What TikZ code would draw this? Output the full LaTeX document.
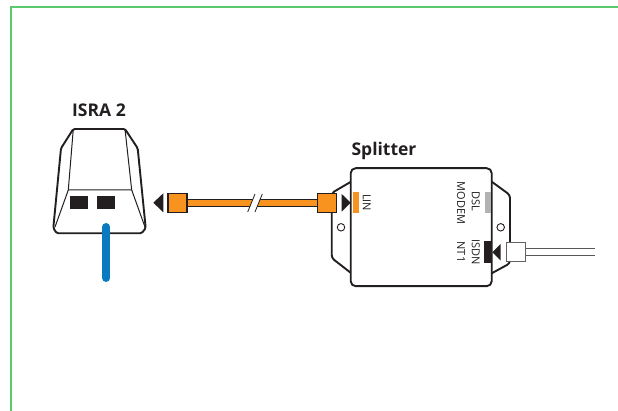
\documentclass[tikz,border=0pt]{standalone}
\usepackage{fontspec}
\setmainfont{Open Sans}
\usetikzlibrary{calc}
\definecolor{framegreen}{HTML}{5CC96F}
\definecolor{plugorange}{HTML}{F7931E}
\definecolor{cableblue}{HTML}{0A7AC0}
\definecolor{inkblack}{HTML}{231F20}
\tikzset{
  device/.style={line width=1.9pt, draw=inkblack, line join=round},
  title/.style={font=\bfseries\fontsize{17.5}{20}\selectfont, text=inkblack, inner sep=0pt},
  port/.style={font=\fontsize{11}{13}\selectfont, text=inkblack, rotate=-90, inner sep=0pt},
  plug/.style={draw=inkblack, fill=plugorange, line width=1.1pt, minimum width=19pt, minimum height=19pt, inner sep=0pt},
  hole/.style={circle, draw=inkblack, fill=white, line width=0.9pt, minimum size=7.5pt, inner sep=0pt},
  strip/.style={inner sep=0pt, minimum width=6pt, minimum height=21pt},
  socket/.style={fill=inkblack, inner sep=0pt, minimum width=18pt, minimum height=13pt},
  arrowhead/.style={fill=inkblack}
}
\begin{document}
\begin{tikzpicture}[x=1pt, y=-1pt]
\useasboundingbox (0,0) rectangle (618,411);

\coordinate (fa) at (11,411);
\coordinate (fb) at (11,7);
\coordinate (fc) at (618,7);
\draw[framegreen, line width=1.3pt] (fa) -- (fb) -- (fc);

% ISRA box
\draw[device, rounded corners=1.5pt, fill=white] (73.3,129) -- (125,129) -- (137.7,148.3) -- (145.7,228) -- (141.7,233.3) -- (56.7,233.3) -- (53.3,228) -- (61,148.3) -- cycle;
\draw[inkblack, line width=1pt] (73.3,129) -- (68.3,190) -- (131.7,190) -- (125,129);
\draw[inkblack, line width=1pt] (68.3,190) -- (55,227);
\draw[inkblack, line width=1pt] (131.7,190) -- (145,227);
\node[socket] (s1) at (79.2,202.5) {};
\node[socket] (s2) at (106.3,202.5) {};
\node[title] (isra) at (99,110.5) {ISRA 2};
\coordinate (b1) at (106.3,227);
\coordinate (b2) at (106.3,278);
\draw[cableblue, line width=8pt, line cap=round] (b1) -- (b2);

% splitter
\draw[device, rounded corners=3pt, fill=white] (351,181.7) -- (331.7,193) -- (331.7,258) -- (351,273);
\draw[device, rounded corners=3pt, fill=white] (491.7,181.7) -- (510,195) -- (510,263.3) -- (491.7,273.3);
\node[device, fill=white, rounded corners=5pt, minimum width=141pt, minimum height=118pt, inner sep=0pt] (splitter) at (421.2,227.2) {};
\node[title] (stitle) at (384,150.5) {Splitter};
\node[strip, fill=plugorange] (lin) at (355.5,202.8) {};
\node[strip, fill=gray!60] (dsl) at (487.5,202.8) {};
\node[strip, fill=inkblack, minimum width=7.5pt, minimum height=22pt] (isdn) at (488,251.7) {};
\node[port] (tlin) at (366.7,202.7) {LIN};
\node[port] (tdsl) at (475.7,201.7) {DSL};
\node[port] (tmodem) at (461,203) {MODEM};
\node[port] (tisdn) at (475.7,252.5) {ISDN};
\node[port] (tnt) at (461,252) {NT1};
\node[hole] (h1) at (341,227.3) {};
\node[hole] (h2) at (500.7,227.3) {};

% orange cable
\node[plug] (p1) at (177.5,202.8) {};
\node[plug] (p2) at (326.6,202.8) {};
\draw[inkblack, line width=8pt] (p1) -- (p2);
\draw[plugorange, line width=6pt] (p1) -- (p2);
\fill[white] (247.7,212) -- (255,194) -- (262.3,194) -- (255,212) -- cycle;
\draw[inkblack, line width=0.8pt] (247.7,212) -- (255,194);
\draw[inkblack, line width=0.8pt] (255,212) -- (262.3,194);
\fill[arrowhead] (153.3,202.7) -- (163.3,193.3) -- (163.3,212.3) -- cycle;
\fill[arrowhead] (341.7,194) -- (350.7,202.7) -- (341.7,211.7) -- cycle;

% white plug and wires
\node[draw=inkblack!70, fill=white, line width=1.1pt, minimum width=19.5pt, minimum height=19.5pt, inner sep=0pt] (p3) at (516,252) {};
\coordinate (w1) at (595,248.3);
\coordinate (w2) at (595,256);
\draw[inkblack!75, line width=1pt] (p3.east |- w1) -- (w1);
\draw[inkblack!75, line width=1pt] (p3.east |- w2) -- (w2);
\fill[arrowhead] (500.7,244) -- (492.3,252.3) -- (500.7,260.7) -- cycle;
\end{tikzpicture}
\end{document}
